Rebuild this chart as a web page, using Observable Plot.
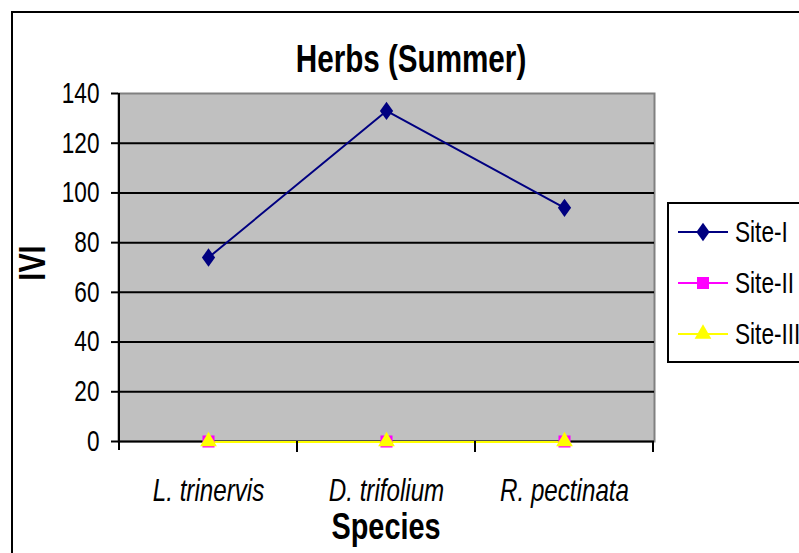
<!DOCTYPE html>
<html>
<head>
<meta charset="utf-8">
<script src="https://cdn.jsdelivr.net/npm/d3@7"></script>
<script src="https://cdn.jsdelivr.net/npm/@observablehq/plot@0.6"></script>
<style>
  html, body { margin: 0; padding: 0; background: #fff; }
  svg text { font-family: "Liberation Sans", Arial, sans-serif; }
</style>
</head>
<body>
<div id="chart"></div>
<script>
const species = ["L. trinervis", "D. trifolium", "R. pectinata"];
const seriesNames = ["Site-I", "Site-II", "Site-III"];
const siteI = [74, 133, 94];
const siteII = [0, 0, 0];
const siteIII = [0, 0, 0];
const yTicks = [0, 20, 40, 60, 80, 100, 120, 140];
const colors = ["#000080", "#ff00ff", "#ffff00"];
const symbolR = [5.2, 6.8, 6.2];

// Excel-like diamond (wider than d3's)
const excelDiamond = {
  draw(context, size) {
    const h = Math.sqrt(size);
    const w = h * 0.72;
    context.moveTo(0, -h);
    context.lineTo(w, 0);
    context.lineTo(0, h);
    context.lineTo(-w, 0);
    context.closePath();
  }
};
const symbolTypes = [excelDiamond, d3.symbolSquare, d3.symbolTriangle];

const seriesValues = [siteI, siteII, siteIII];
const rows = [];
seriesNames.forEach((s, si) => species.forEach((sp, i) => rows.push({series: s, species: sp, value: seriesValues[si][i]})));

const font = `"Liberation Sans", Arial, sans-serif`;

const marks = [
  Plot.frame({fill: "#c0c0c0", stroke: "#808080", strokeWidth: 2}),
  Plot.ruleY(yTicks.filter(d => d > 0 && d < 140), {stroke: "#000", strokeWidth: 2}),
  Plot.ruleY([0], {stroke: "#000", strokeWidth: 2}),
  Plot.axisY({ticks: yTicks, tickSize: 7, tickPadding: 12, fontSize: 29, stroke: "#000", strokeWidth: 2, label: null}),
  Plot.axisX({tickSize: 0, tickPadding: 37, fontSize: 31, fontStyle: "italic", label: null})
];
seriesNames.forEach((s, si) => {
  const data = rows.filter(r => r.series === s);
  marks.push(Plot.line(data, {x: "species", y: "value", stroke: colors[si], strokeWidth: 2,
    shapeRendering: si === 0 ? "auto" : "crispEdges"}));
});
seriesNames.forEach((s, si) => {
  const data = rows.filter(r => r.series === s);
  marks.push(Plot.dot(data, {x: "species", y: "value", fill: colors[si], stroke: "none", symbol: () => symbolTypes[si], r: symbolR[si]}));
});

const chart = Plot.plot({
  width: 799,
  height: 553,
  marginLeft: 118,
  marginRight: 145,
  marginTop: 93,
  marginBottom: 112,
  style: {fontFamily: font, background: "#fff", color: "#000"},
  x: {type: "point", domain: species, padding: 0.5},
  y: {domain: [0, 140]},
  symbol: {type: "identity"},
  marks
});

const svg = d3.select(chart);
const xs = chart.scale("x");
const ys = chart.scale("y");
const step = xs.apply(species[1]) - xs.apply(species[0]);
const x0 = xs.apply(species[0]) - step / 2;
const yBase = ys.apply(0);
const yTop = ys.apply(140);

// left axis line
svg.append("line").attr("x1", x0).attr("x2", x0).attr("y1", yTop).attr("y2", yBase + 9)
  .attr("stroke", "#000").attr("stroke-width", 2);
// category boundary ticks
for (let i = 1; i <= species.length; i++) {
  const xx = x0 + i * step;
  svg.append("line").attr("x1", xx).attr("x2", xx).attr("y1", yBase).attr("y2", yBase + 11)
    .attr("stroke", "#000").attr("stroke-width", 2);
}

// outer chart border
svg.append("rect").attr("x", 12).attr("y", 12).attr("width", 820).attr("height", 580)
  .attr("fill", "none").attr("stroke", "#000").attr("stroke-width", 2);

// title
svg.append("text").attr("x", 411).attr("y", 72).attr("text-anchor", "middle")
  .attr("font-size", 38).attr("font-weight", "bold").text("Herbs (Summer)");
// axis titles
svg.append("text").attr("x", 386).attr("y", 539).attr("text-anchor", "middle")
  .attr("font-size", 37).attr("font-weight", "bold").text("Species");
svg.append("text").attr("transform", "translate(45,263) rotate(-90)").attr("text-anchor", "middle")
  .attr("font-size", 37).attr("font-weight", "bold").text("IVI");

// legend
const lg = svg.append("g");
lg.append("rect").attr("x", 668).attr("y", 203).attr("width", 200).attr("height", 159)
  .attr("fill", "#fff").attr("stroke", "#000").attr("stroke-width", 2);
const legendY = [232, 283, 334];
seriesNames.forEach((s, i) => {
  const yy = legendY[i];
  lg.append("line").attr("x1", 678).attr("x2", 728).attr("y1", yy).attr("y2", yy)
    .attr("stroke", colors[i]).attr("stroke-width", 2);
  lg.append("path").attr("transform", `translate(703,${yy})`)
    .attr("d", d3.symbol(symbolTypes[i], Math.PI * symbolR[i] * symbolR[i])())
    .attr("fill", colors[i]);
  lg.append("text").attr("x", 735).attr("y", yy + 10).attr("text-anchor", "start")
    .attr("font-size", 29).text(s);
});

// horizontally condense all text (Arial Narrow look)
const sx = 0.78;
svg.selectAll("text").each(function() {
  const t = d3.select(this);
  const xAttr = t.attr("x");
  const xv = xAttr != null && !isNaN(+xAttr) ? +xAttr : 0;
  const tr = t.attr("transform") || "";
  t.attr("x", null);
  t.attr("transform", `${tr} translate(${xv},0) scale(${sx},1)`);
});

document.getElementById("chart").appendChild(chart);
</script>
</body>
</html>
